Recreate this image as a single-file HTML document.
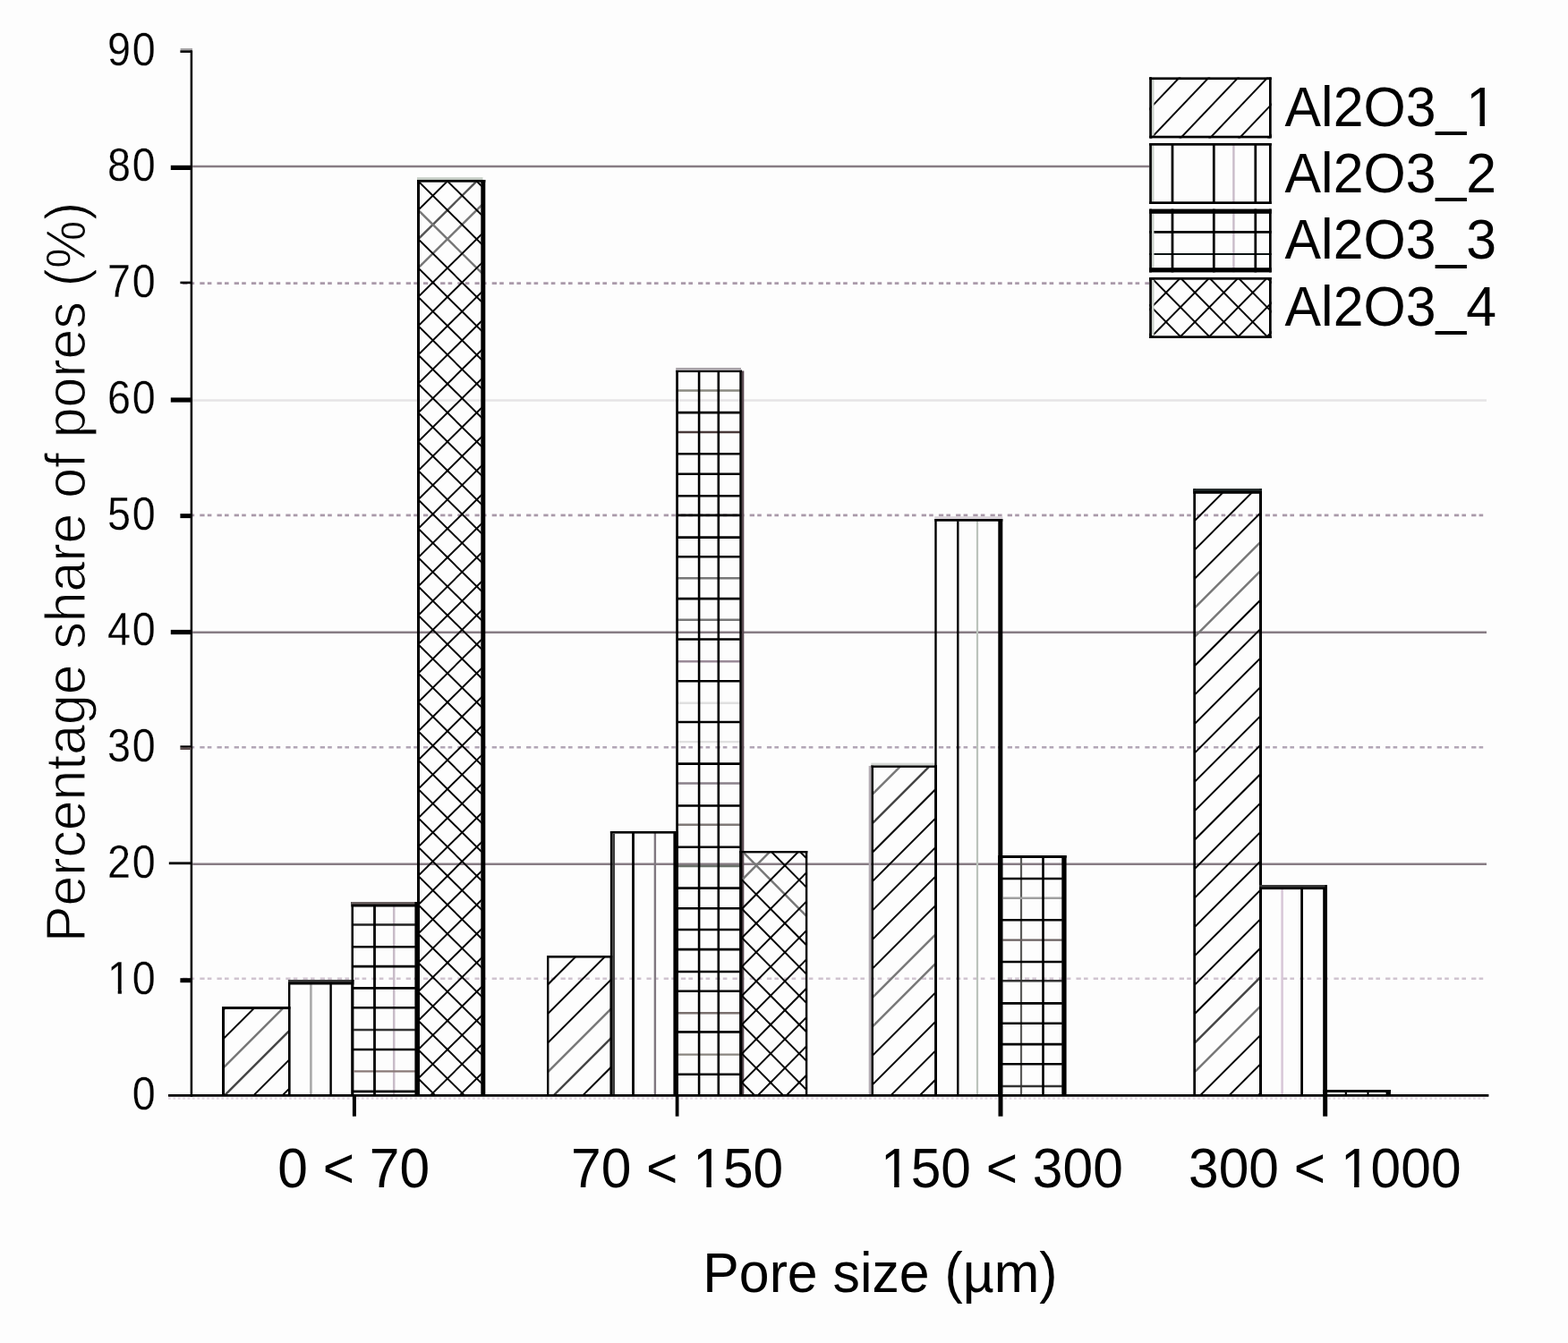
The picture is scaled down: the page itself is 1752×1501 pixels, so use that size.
<!DOCTYPE html>
<html lang="en">
<head>
<meta charset="utf-8">
<title>Percentage share of pores</title>
<style>
html,body{margin:0;padding:0;background:#fdfdfd;}
body{width:1752px;height:1501px;overflow:hidden;}
svg{display:block;filter:blur(0.45px);}
text{font-family:"Liberation Sans",Arial,Helvetica,sans-serif;fill:#000;}
</style>
</head>
<body>
<svg width="1752" height="1501" viewBox="0 0 1752 1501">
<rect x="-5" y="-5" width="1762" height="1511" fill="#fdfdfd"/>
<line x1="215.2" y1="185.9" x2="1661.0" y2="185.9" stroke="#877c84" stroke-width="2.50"/>
<line x1="204.1" y1="316.6" x2="1661.0" y2="316.6" stroke="#aa9aaa" stroke-width="2.60" stroke-dasharray="5.3 3.2 4.6 6.1"/>
<line x1="215.2" y1="447.6" x2="1661.0" y2="447.6" stroke="#e6e4e6" stroke-width="2.50"/>
<line x1="204.1" y1="575.9" x2="1661.0" y2="575.9" stroke="#aa9aaa" stroke-width="2.60" stroke-dasharray="5.3 3.2 4.6 6.1"/>
<line x1="215.2" y1="706.7" x2="1661.0" y2="706.7" stroke="#877c84" stroke-width="2.50"/>
<line x1="204.1" y1="835.2" x2="1661.0" y2="835.2" stroke="#b2a6b6" stroke-width="2.60" stroke-dasharray="5.3 3.2 4.6 6.1"/>
<line x1="215.2" y1="965.7" x2="1661.0" y2="965.7" stroke="#877c84" stroke-width="2.50"/>
<line x1="204.1" y1="1093.8" x2="1661.0" y2="1093.8" stroke="#d0c4d0" stroke-width="2.60" stroke-dasharray="5.3 3.2 4.6 6.1"/>
<line x1="188.0" y1="1227.6" x2="1660.0" y2="1227.6" stroke="#e4d8e4" stroke-width="2.20" stroke-dasharray="2.7 2.7"/>
<clipPath id="c1"><rect x="250.5" y="1127.5" width="72.0" height="96.8"/></clipPath>
<g clip-path="url(#c1)">
<line x1="245.5" y1="1197.5" x2="327.5" y2="1115.5" stroke="#777" stroke-width="2.45"/>
<line x1="245.5" y1="1229.8" x2="327.5" y2="1147.8" stroke="#444" stroke-width="2.45"/>
<line x1="245.5" y1="1100.6" x2="327.5" y2="1018.6" stroke="#000" stroke-width="1.95"/>
<line x1="245.5" y1="1132.9" x2="327.5" y2="1050.9" stroke="#000" stroke-width="1.95"/>
<line x1="245.5" y1="1165.2" x2="327.5" y2="1083.2" stroke="#000" stroke-width="1.95"/>
<line x1="245.5" y1="1262.1" x2="327.5" y2="1180.1" stroke="#000" stroke-width="1.95"/>
<line x1="245.5" y1="1294.4" x2="327.5" y2="1212.4" stroke="#000" stroke-width="1.95"/>
<line x1="245.5" y1="1326.7" x2="327.5" y2="1244.7" stroke="#000" stroke-width="1.95"/>
</g>
<rect x="248.0" y="1125.0" width="3.0" height="99.3" fill="#000"/>
<rect x="322.0" y="1125.0" width="2.4" height="99.3" fill="#000"/>
<rect x="248.0" y="1125.0" width="76.4" height="3.0" fill="#000"/>
<line x1="347.4" y1="1100.0" x2="347.4" y2="1224.3" stroke="#a8a8a8" stroke-width="2.60"/>
<line x1="369.6" y1="1100.0" x2="369.6" y2="1224.3" stroke="#000" stroke-width="2.40"/>
<rect x="322.0" y="1095.0" width="2.4" height="129.3" fill="#000"/>
<rect x="392.4" y="1095.0" width="3.0" height="129.3" fill="#000"/>
<rect x="322.0" y="1095.0" width="73.4" height="5.5" fill="#000"/>
<rect x="322.0" y="1095.0" width="73.4" height="2.6" fill="#3a3a3a"/>
<line x1="440.2" y1="1013.0" x2="440.2" y2="1224.3" stroke="#c8bcc8" stroke-width="2.50"/>
<line x1="394.5" y1="1033.5" x2="463.9" y2="1033.5" stroke="#222" stroke-width="2.40"/>
<line x1="394.5" y1="1151.0" x2="463.9" y2="1151.0" stroke="#333" stroke-width="2.40"/>
<line x1="394.5" y1="1197.4" x2="463.9" y2="1197.4" stroke="#8a7a78" stroke-width="2.40"/>
<line x1="418.5" y1="1013.0" x2="418.5" y2="1224.3" stroke="#000" stroke-width="2.80"/>
<line x1="394.5" y1="1058.2" x2="463.9" y2="1058.2" stroke="#000" stroke-width="2.60"/>
<line x1="394.5" y1="1080.1" x2="463.9" y2="1080.1" stroke="#000" stroke-width="2.60"/>
<line x1="394.5" y1="1104.4" x2="463.9" y2="1104.4" stroke="#000" stroke-width="2.60"/>
<line x1="394.5" y1="1126.2" x2="463.9" y2="1126.2" stroke="#000" stroke-width="2.60"/>
<line x1="394.5" y1="1173.0" x2="463.9" y2="1173.0" stroke="#000" stroke-width="2.60"/>
<line x1="394.5" y1="1219.9" x2="463.9" y2="1219.9" stroke="#000" stroke-width="2.60"/>
<rect x="392.5" y="1008.0" width="2.5" height="216.3" fill="#000"/>
<rect x="463.4" y="1008.0" width="2.8" height="216.3" fill="#000"/>
<rect x="392.5" y="1008.0" width="73.7" height="5.5" fill="#000"/>
<rect x="392.5" y="1008.0" width="70.9" height="2.6" fill="#6a6060"/>
<clipPath id="c2"><rect x="468.5" y="203.2" width="69.3" height="1021.1"/></clipPath>
<g clip-path="url(#c2)">
<line x1="463.5" y1="271.0" x2="542.8" y2="192.4" stroke="#555" stroke-width="2.45"/>
<line x1="463.5" y1="303.3" x2="542.8" y2="224.7" stroke="#777" stroke-width="2.45"/>
<line x1="463.5" y1="231.0" x2="542.8" y2="309.6" stroke="#777" stroke-width="2.45"/>
<line x1="463.5" y1="206.3" x2="542.8" y2="127.7" stroke="#000" stroke-width="1.95"/>
<line x1="463.5" y1="238.6" x2="542.8" y2="160.0" stroke="#000" stroke-width="1.95"/>
<line x1="463.5" y1="335.7" x2="542.8" y2="257.1" stroke="#000" stroke-width="1.95"/>
<line x1="463.5" y1="368.0" x2="542.8" y2="289.5" stroke="#000" stroke-width="1.95"/>
<line x1="463.5" y1="400.4" x2="542.8" y2="321.8" stroke="#000" stroke-width="1.95"/>
<line x1="463.5" y1="432.7" x2="542.8" y2="354.2" stroke="#000" stroke-width="1.95"/>
<line x1="463.5" y1="465.1" x2="542.8" y2="386.5" stroke="#000" stroke-width="1.95"/>
<line x1="463.5" y1="497.4" x2="542.8" y2="418.9" stroke="#000" stroke-width="1.95"/>
<line x1="463.5" y1="529.8" x2="542.8" y2="451.2" stroke="#000" stroke-width="1.95"/>
<line x1="463.5" y1="562.1" x2="542.8" y2="483.6" stroke="#000" stroke-width="1.95"/>
<line x1="463.5" y1="594.5" x2="542.8" y2="515.9" stroke="#000" stroke-width="1.95"/>
<line x1="463.5" y1="626.9" x2="542.8" y2="548.3" stroke="#000" stroke-width="1.95"/>
<line x1="463.5" y1="659.2" x2="542.8" y2="580.6" stroke="#000" stroke-width="1.95"/>
<line x1="463.5" y1="691.6" x2="542.8" y2="613.0" stroke="#000" stroke-width="1.95"/>
<line x1="463.5" y1="723.9" x2="542.8" y2="645.3" stroke="#000" stroke-width="1.95"/>
<line x1="463.5" y1="756.3" x2="542.8" y2="677.7" stroke="#000" stroke-width="1.95"/>
<line x1="463.5" y1="788.6" x2="542.8" y2="710.0" stroke="#000" stroke-width="1.95"/>
<line x1="463.5" y1="821.0" x2="542.8" y2="742.4" stroke="#000" stroke-width="1.95"/>
<line x1="463.5" y1="853.3" x2="542.8" y2="774.7" stroke="#000" stroke-width="1.95"/>
<line x1="463.5" y1="885.7" x2="542.8" y2="807.1" stroke="#000" stroke-width="1.95"/>
<line x1="463.5" y1="918.0" x2="542.8" y2="839.5" stroke="#000" stroke-width="1.95"/>
<line x1="463.5" y1="950.4" x2="542.8" y2="871.8" stroke="#000" stroke-width="1.95"/>
<line x1="463.5" y1="982.7" x2="542.8" y2="904.2" stroke="#000" stroke-width="1.95"/>
<line x1="463.5" y1="1015.1" x2="542.8" y2="936.5" stroke="#000" stroke-width="1.95"/>
<line x1="463.5" y1="1047.4" x2="542.8" y2="968.9" stroke="#000" stroke-width="1.95"/>
<line x1="463.5" y1="1079.8" x2="542.8" y2="1001.2" stroke="#000" stroke-width="1.95"/>
<line x1="463.5" y1="1112.1" x2="542.8" y2="1033.6" stroke="#000" stroke-width="1.95"/>
<line x1="463.5" y1="1144.5" x2="542.8" y2="1065.9" stroke="#000" stroke-width="1.95"/>
<line x1="463.5" y1="1176.9" x2="542.8" y2="1098.3" stroke="#000" stroke-width="1.95"/>
<line x1="463.5" y1="1209.2" x2="542.8" y2="1130.6" stroke="#000" stroke-width="1.95"/>
<line x1="463.5" y1="1241.6" x2="542.8" y2="1163.0" stroke="#000" stroke-width="1.95"/>
<line x1="463.5" y1="1273.9" x2="542.8" y2="1195.3" stroke="#000" stroke-width="1.95"/>
<line x1="463.5" y1="1306.3" x2="542.8" y2="1227.7" stroke="#000" stroke-width="1.95"/>
<line x1="463.5" y1="1234.0" x2="542.8" y2="1312.6" stroke="#000" stroke-width="1.95"/>
<line x1="463.5" y1="1201.6" x2="542.8" y2="1280.2" stroke="#000" stroke-width="1.95"/>
<line x1="463.5" y1="1169.3" x2="542.8" y2="1247.9" stroke="#000" stroke-width="1.95"/>
<line x1="463.5" y1="1136.9" x2="542.8" y2="1215.5" stroke="#000" stroke-width="1.95"/>
<line x1="463.5" y1="1104.6" x2="542.8" y2="1183.1" stroke="#000" stroke-width="1.95"/>
<line x1="463.5" y1="1072.2" x2="542.8" y2="1150.8" stroke="#000" stroke-width="1.95"/>
<line x1="463.5" y1="1039.9" x2="542.8" y2="1118.4" stroke="#000" stroke-width="1.95"/>
<line x1="463.5" y1="1007.5" x2="542.8" y2="1086.1" stroke="#000" stroke-width="1.95"/>
<line x1="463.5" y1="975.2" x2="542.8" y2="1053.7" stroke="#000" stroke-width="1.95"/>
<line x1="463.5" y1="942.8" x2="542.8" y2="1021.4" stroke="#000" stroke-width="1.95"/>
<line x1="463.5" y1="910.4" x2="542.8" y2="989.0" stroke="#000" stroke-width="1.95"/>
<line x1="463.5" y1="878.1" x2="542.8" y2="956.7" stroke="#000" stroke-width="1.95"/>
<line x1="463.5" y1="845.7" x2="542.8" y2="924.3" stroke="#000" stroke-width="1.95"/>
<line x1="463.5" y1="813.4" x2="542.8" y2="892.0" stroke="#000" stroke-width="1.95"/>
<line x1="463.5" y1="781.0" x2="542.8" y2="859.6" stroke="#000" stroke-width="1.95"/>
<line x1="463.5" y1="748.7" x2="542.8" y2="827.3" stroke="#000" stroke-width="1.95"/>
<line x1="463.5" y1="716.3" x2="542.8" y2="794.9" stroke="#000" stroke-width="1.95"/>
<line x1="463.5" y1="684.0" x2="542.8" y2="762.6" stroke="#000" stroke-width="1.95"/>
<line x1="463.5" y1="651.6" x2="542.8" y2="730.2" stroke="#000" stroke-width="1.95"/>
<line x1="463.5" y1="619.3" x2="542.8" y2="697.9" stroke="#000" stroke-width="1.95"/>
<line x1="463.5" y1="586.9" x2="542.8" y2="665.5" stroke="#000" stroke-width="1.95"/>
<line x1="463.5" y1="554.6" x2="542.8" y2="633.1" stroke="#000" stroke-width="1.95"/>
<line x1="463.5" y1="522.2" x2="542.8" y2="600.8" stroke="#000" stroke-width="1.95"/>
<line x1="463.5" y1="489.9" x2="542.8" y2="568.4" stroke="#000" stroke-width="1.95"/>
<line x1="463.5" y1="457.5" x2="542.8" y2="536.1" stroke="#000" stroke-width="1.95"/>
<line x1="463.5" y1="425.2" x2="542.8" y2="503.7" stroke="#000" stroke-width="1.95"/>
<line x1="463.5" y1="392.8" x2="542.8" y2="471.4" stroke="#000" stroke-width="1.95"/>
<line x1="463.5" y1="360.4" x2="542.8" y2="439.0" stroke="#000" stroke-width="1.95"/>
<line x1="463.5" y1="328.1" x2="542.8" y2="406.7" stroke="#000" stroke-width="1.95"/>
<line x1="463.5" y1="295.7" x2="542.8" y2="374.3" stroke="#000" stroke-width="1.95"/>
<line x1="463.5" y1="263.4" x2="542.8" y2="342.0" stroke="#000" stroke-width="1.95"/>
<line x1="463.5" y1="198.7" x2="542.8" y2="277.3" stroke="#000" stroke-width="1.95"/>
<line x1="463.5" y1="166.3" x2="542.8" y2="244.9" stroke="#000" stroke-width="1.95"/>
<line x1="463.5" y1="134.0" x2="542.8" y2="212.6" stroke="#000" stroke-width="1.95"/>
<line x1="463.5" y1="101.6" x2="542.8" y2="180.2" stroke="#000" stroke-width="1.95"/>
</g>
<rect x="466.0" y="201.0" width="3.0" height="1023.3" fill="#000"/>
<rect x="537.3" y="201.0" width="5.0" height="1023.3" fill="#000"/>
<rect x="466.0" y="201.0" width="76.3" height="2.7" fill="#000"/>
<rect x="466.0" y="198.2" width="73.5" height="2.8" fill="#c4ccc4"/>
<clipPath id="c3"><rect x="612.9" y="1070.1" width="69.1" height="154.2"/></clipPath>
<g clip-path="url(#c3)">
<line x1="607.9" y1="1202.4" x2="687.0" y2="1123.3" stroke="#777" stroke-width="2.45"/>
<line x1="607.9" y1="1235.0" x2="687.0" y2="1155.9" stroke="#444" stroke-width="2.45"/>
<line x1="607.9" y1="1072.0" x2="687.0" y2="992.9" stroke="#000" stroke-width="1.95"/>
<line x1="607.9" y1="1104.6" x2="687.0" y2="1025.5" stroke="#000" stroke-width="1.95"/>
<line x1="607.9" y1="1137.2" x2="687.0" y2="1058.1" stroke="#000" stroke-width="1.95"/>
<line x1="607.9" y1="1169.8" x2="687.0" y2="1090.7" stroke="#000" stroke-width="1.95"/>
<line x1="607.9" y1="1267.6" x2="687.0" y2="1188.5" stroke="#000" stroke-width="1.95"/>
<line x1="607.9" y1="1300.2" x2="687.0" y2="1221.1" stroke="#000" stroke-width="1.95"/>
</g>
<rect x="611.0" y="1068.0" width="2.4" height="156.3" fill="#000"/>
<rect x="681.5" y="1068.0" width="2.8" height="156.3" fill="#000"/>
<rect x="611.0" y="1068.0" width="73.3" height="2.6" fill="#000"/>
<line x1="731.9" y1="931.1" x2="731.9" y2="1224.3" stroke="#807880" stroke-width="2.40"/>
<line x1="707.5" y1="931.1" x2="707.5" y2="1224.3" stroke="#000" stroke-width="2.80"/>
<rect x="681.9" y="929.0" width="2.6" height="295.3" fill="#000"/>
<rect x="752.4" y="929.0" width="5.5" height="295.3" fill="#000"/>
<rect x="681.9" y="929.0" width="76.0" height="2.6" fill="#000"/>
<rect x="684.4" y="931.6" width="2.6" height="292.7" fill="#3a3a3a"/>
<line x1="757.4" y1="436.5" x2="826.8" y2="436.5" stroke="#8a8a80" stroke-width="2.40"/>
<line x1="757.4" y1="483.0" x2="826.8" y2="483.0" stroke="#4a3a3a" stroke-width="2.40"/>
<line x1="757.4" y1="646.3" x2="826.8" y2="646.3" stroke="#777" stroke-width="2.40"/>
<line x1="757.4" y1="692.7" x2="826.8" y2="692.7" stroke="#777" stroke-width="2.40"/>
<line x1="757.4" y1="739.3" x2="826.8" y2="739.3" stroke="#9a8a98" stroke-width="2.40"/>
<line x1="757.4" y1="785.7" x2="826.8" y2="785.7" stroke="#e0e0e0" stroke-width="2.40"/>
<line x1="757.4" y1="829.1" x2="826.8" y2="829.1" stroke="#e0e0e0" stroke-width="2.40"/>
<line x1="757.4" y1="875.5" x2="826.8" y2="875.5" stroke="#8a808a" stroke-width="2.40"/>
<line x1="757.4" y1="921.7" x2="826.8" y2="921.7" stroke="#807a78" stroke-width="2.40"/>
<line x1="757.4" y1="968.0" x2="826.8" y2="968.0" stroke="#6a706a" stroke-width="2.40"/>
<line x1="757.4" y1="1132.2" x2="826.8" y2="1132.2" stroke="#7a706e" stroke-width="2.40"/>
<line x1="757.4" y1="1178.6" x2="826.8" y2="1178.6" stroke="#8a8680" stroke-width="2.40"/>
<line x1="781.1" y1="415.6" x2="781.1" y2="1224.3" stroke="#000" stroke-width="2.60"/>
<line x1="802.8" y1="415.6" x2="802.8" y2="1224.3" stroke="#000" stroke-width="2.60"/>
<line x1="757.4" y1="461.1" x2="826.8" y2="461.1" stroke="#000" stroke-width="2.60"/>
<line x1="757.4" y1="507.3" x2="826.8" y2="507.3" stroke="#000" stroke-width="2.60"/>
<line x1="757.4" y1="529.7" x2="826.8" y2="529.7" stroke="#000" stroke-width="2.60"/>
<line x1="757.4" y1="554.2" x2="826.8" y2="554.2" stroke="#000" stroke-width="2.60"/>
<line x1="757.4" y1="575.9" x2="826.8" y2="575.9" stroke="#000" stroke-width="2.60"/>
<line x1="757.4" y1="600.6" x2="826.8" y2="600.6" stroke="#000" stroke-width="2.60"/>
<line x1="757.4" y1="622.3" x2="826.8" y2="622.3" stroke="#000" stroke-width="2.60"/>
<line x1="757.4" y1="669.1" x2="826.8" y2="669.1" stroke="#000" stroke-width="2.60"/>
<line x1="757.4" y1="714.5" x2="826.8" y2="714.5" stroke="#000" stroke-width="2.60"/>
<line x1="757.4" y1="761.3" x2="826.8" y2="761.3" stroke="#000" stroke-width="2.60"/>
<line x1="757.4" y1="807.0" x2="826.8" y2="807.0" stroke="#000" stroke-width="2.60"/>
<line x1="757.4" y1="853.6" x2="826.8" y2="853.6" stroke="#000" stroke-width="2.60"/>
<line x1="757.4" y1="900.5" x2="826.8" y2="900.5" stroke="#000" stroke-width="2.60"/>
<line x1="757.4" y1="946.7" x2="826.8" y2="946.7" stroke="#000" stroke-width="2.60"/>
<line x1="757.4" y1="992.6" x2="826.8" y2="992.6" stroke="#000" stroke-width="2.60"/>
<line x1="757.4" y1="1015.2" x2="826.8" y2="1015.2" stroke="#000" stroke-width="2.60"/>
<line x1="757.4" y1="1039.0" x2="826.8" y2="1039.0" stroke="#000" stroke-width="2.60"/>
<line x1="757.4" y1="1061.1" x2="826.8" y2="1061.1" stroke="#000" stroke-width="2.60"/>
<line x1="757.4" y1="1086.0" x2="826.8" y2="1086.0" stroke="#000" stroke-width="2.60"/>
<line x1="757.4" y1="1107.7" x2="826.8" y2="1107.7" stroke="#000" stroke-width="2.60"/>
<line x1="757.4" y1="1153.4" x2="826.8" y2="1153.4" stroke="#000" stroke-width="2.60"/>
<line x1="757.4" y1="1200.7" x2="826.8" y2="1200.7" stroke="#000" stroke-width="2.60"/>
<rect x="755.2" y="413.7" width="2.7" height="810.6" fill="#000"/>
<rect x="826.3" y="413.7" width="2.6" height="810.6" fill="#000"/>
<rect x="755.2" y="413.7" width="73.7" height="2.4" fill="#000"/>
<rect x="755.2" y="411.0" width="72.8" height="2.7" fill="#aaa4aa"/>
<rect x="828.9" y="414.5" width="2.4" height="809.8" fill="#5a4a52"/>
<clipPath id="c4"><rect x="828.8" y="952.9" width="71.6" height="271.4"/></clipPath>
<g clip-path="url(#c4)">
<line x1="823.8" y1="988.7" x2="905.4" y2="906.2" stroke="#777" stroke-width="2.45"/>
<line x1="823.8" y1="945.8" x2="905.4" y2="1028.3" stroke="#777" stroke-width="2.45"/>
<line x1="823.8" y1="956.3" x2="905.4" y2="873.8" stroke="#000" stroke-width="1.95"/>
<line x1="823.8" y1="1021.0" x2="905.4" y2="938.5" stroke="#000" stroke-width="1.95"/>
<line x1="823.8" y1="1053.4" x2="905.4" y2="970.9" stroke="#000" stroke-width="1.95"/>
<line x1="823.8" y1="1085.7" x2="905.4" y2="1003.2" stroke="#000" stroke-width="1.95"/>
<line x1="823.8" y1="1118.1" x2="905.4" y2="1035.6" stroke="#000" stroke-width="1.95"/>
<line x1="823.8" y1="1150.4" x2="905.4" y2="1067.9" stroke="#000" stroke-width="1.95"/>
<line x1="823.8" y1="1182.8" x2="905.4" y2="1100.3" stroke="#000" stroke-width="1.95"/>
<line x1="823.8" y1="1215.1" x2="905.4" y2="1132.6" stroke="#000" stroke-width="1.95"/>
<line x1="823.8" y1="1247.5" x2="905.4" y2="1165.0" stroke="#000" stroke-width="1.95"/>
<line x1="823.8" y1="1279.8" x2="905.4" y2="1197.3" stroke="#000" stroke-width="1.95"/>
<line x1="823.8" y1="1312.2" x2="905.4" y2="1229.7" stroke="#000" stroke-width="1.95"/>
<line x1="823.8" y1="1237.0" x2="905.4" y2="1319.5" stroke="#000" stroke-width="1.95"/>
<line x1="823.8" y1="1204.6" x2="905.4" y2="1287.1" stroke="#000" stroke-width="1.95"/>
<line x1="823.8" y1="1172.3" x2="905.4" y2="1254.8" stroke="#000" stroke-width="1.95"/>
<line x1="823.8" y1="1139.9" x2="905.4" y2="1222.4" stroke="#000" stroke-width="1.95"/>
<line x1="823.8" y1="1107.6" x2="905.4" y2="1190.1" stroke="#000" stroke-width="1.95"/>
<line x1="823.8" y1="1075.2" x2="905.4" y2="1157.7" stroke="#000" stroke-width="1.95"/>
<line x1="823.8" y1="1042.9" x2="905.4" y2="1125.4" stroke="#000" stroke-width="1.95"/>
<line x1="823.8" y1="1010.5" x2="905.4" y2="1093.0" stroke="#000" stroke-width="1.95"/>
<line x1="823.8" y1="978.2" x2="905.4" y2="1060.7" stroke="#000" stroke-width="1.95"/>
<line x1="823.8" y1="913.5" x2="905.4" y2="996.0" stroke="#000" stroke-width="1.95"/>
<line x1="823.8" y1="881.1" x2="905.4" y2="963.6" stroke="#000" stroke-width="1.95"/>
<line x1="823.8" y1="848.8" x2="905.4" y2="931.3" stroke="#000" stroke-width="1.95"/>
</g>
<rect x="826.3" y="951.0" width="3.0" height="273.3" fill="#000"/>
<rect x="899.9" y="951.0" width="2.4" height="273.3" fill="#000"/>
<rect x="826.3" y="951.0" width="76.0" height="2.4" fill="#000"/>
<clipPath id="c5"><rect x="975.5" y="857.4" width="69.3" height="366.9"/></clipPath>
<g clip-path="url(#c5)">
<line x1="970.5" y1="892.1" x2="1049.8" y2="812.8" stroke="#777" stroke-width="2.45"/>
<line x1="970.5" y1="924.5" x2="1049.8" y2="845.2" stroke="#444" stroke-width="2.45"/>
<line x1="970.5" y1="1119.2" x2="1049.8" y2="1040.0" stroke="#777" stroke-width="2.45"/>
<line x1="970.5" y1="1151.7" x2="1049.8" y2="1072.4" stroke="#777" stroke-width="2.45"/>
<line x1="970.5" y1="859.6" x2="1049.8" y2="780.3" stroke="#000" stroke-width="1.95"/>
<line x1="970.5" y1="957.0" x2="1049.8" y2="877.7" stroke="#000" stroke-width="1.95"/>
<line x1="970.5" y1="989.4" x2="1049.8" y2="910.1" stroke="#000" stroke-width="1.95"/>
<line x1="970.5" y1="1021.9" x2="1049.8" y2="942.6" stroke="#000" stroke-width="1.95"/>
<line x1="970.5" y1="1054.3" x2="1049.8" y2="975.0" stroke="#000" stroke-width="1.95"/>
<line x1="970.5" y1="1086.8" x2="1049.8" y2="1007.5" stroke="#000" stroke-width="1.95"/>
<line x1="970.5" y1="1184.2" x2="1049.8" y2="1104.9" stroke="#000" stroke-width="1.95"/>
<line x1="970.5" y1="1216.6" x2="1049.8" y2="1137.3" stroke="#000" stroke-width="1.95"/>
<line x1="970.5" y1="1249.1" x2="1049.8" y2="1169.8" stroke="#000" stroke-width="1.95"/>
<line x1="970.5" y1="1281.5" x2="1049.8" y2="1202.2" stroke="#000" stroke-width="1.95"/>
<line x1="970.5" y1="1313.9" x2="1049.8" y2="1234.6" stroke="#000" stroke-width="1.95"/>
</g>
<rect x="973.3" y="855.3" width="2.7" height="369.0" fill="#000"/>
<rect x="1044.3" y="855.3" width="2.7" height="369.0" fill="#000"/>
<rect x="973.3" y="855.3" width="73.7" height="2.6" fill="#000"/>
<rect x="970.7" y="856.0" width="2.6" height="368.3" fill="#b4acb4"/>
<rect x="973.3" y="852.7" width="71.0" height="2.6" fill="#d4d8d4"/>
<line x1="1092.0" y1="582.2" x2="1092.0" y2="1224.3" stroke="#bcc4bc" stroke-width="2.20"/>
<line x1="1070.3" y1="582.2" x2="1070.3" y2="1224.3" stroke="#000" stroke-width="2.40"/>
<rect x="1044.3" y="580.0" width="2.4" height="644.3" fill="#000"/>
<rect x="1115.3" y="580.0" width="5.0" height="644.3" fill="#000"/>
<rect x="1044.3" y="580.0" width="76.0" height="2.7" fill="#000"/>
<rect x="1044.3" y="577.2" width="76.0" height="2.8" fill="#d8d2d8"/>
<line x1="1141.0" y1="958.5" x2="1141.0" y2="1224.3" stroke="#5a5a58" stroke-width="2.20"/>
<line x1="1119.8" y1="1003.8" x2="1186.8" y2="1003.8" stroke="#a0a0a0" stroke-width="2.40"/>
<line x1="1119.8" y1="1050.6" x2="1186.8" y2="1050.6" stroke="#6a6060" stroke-width="2.40"/>
<line x1="1119.8" y1="1096.3" x2="1186.8" y2="1096.3" stroke="#333" stroke-width="2.40"/>
<line x1="1119.8" y1="1214.0" x2="1186.8" y2="1214.0" stroke="#333" stroke-width="2.40"/>
<line x1="1165.5" y1="958.5" x2="1165.5" y2="1224.3" stroke="#000" stroke-width="2.60"/>
<line x1="1119.8" y1="982.0" x2="1186.8" y2="982.0" stroke="#000" stroke-width="2.60"/>
<line x1="1119.8" y1="1028.3" x2="1186.8" y2="1028.3" stroke="#000" stroke-width="2.60"/>
<line x1="1119.8" y1="1075.0" x2="1186.8" y2="1075.0" stroke="#000" stroke-width="2.60"/>
<line x1="1119.8" y1="1121.4" x2="1186.8" y2="1121.4" stroke="#000" stroke-width="2.60"/>
<line x1="1119.8" y1="1143.8" x2="1186.8" y2="1143.8" stroke="#000" stroke-width="2.60"/>
<line x1="1119.8" y1="1167.1" x2="1186.8" y2="1167.1" stroke="#000" stroke-width="2.60"/>
<line x1="1119.8" y1="1189.3" x2="1186.8" y2="1189.3" stroke="#000" stroke-width="2.60"/>
<rect x="1115.2" y="956.0" width="5.1" height="268.3" fill="#000"/>
<rect x="1186.3" y="956.0" width="5.3" height="268.3" fill="#000"/>
<rect x="1115.2" y="956.0" width="76.4" height="3.0" fill="#000"/>
<clipPath id="c6"><rect x="1335.5" y="551.3" width="72.0" height="673.0"/></clipPath>
<g clip-path="url(#c6)">
<line x1="1330.5" y1="683.7" x2="1412.5" y2="601.7" stroke="#777" stroke-width="2.45"/>
<line x1="1330.5" y1="716.1" x2="1412.5" y2="634.1" stroke="#777" stroke-width="2.45"/>
<line x1="1330.5" y1="1170.0" x2="1412.5" y2="1088.0" stroke="#444" stroke-width="2.45"/>
<line x1="1330.5" y1="1202.4" x2="1412.5" y2="1120.4" stroke="#777" stroke-width="2.45"/>
<line x1="1330.5" y1="554.0" x2="1412.5" y2="472.0" stroke="#000" stroke-width="1.95"/>
<line x1="1330.5" y1="586.4" x2="1412.5" y2="504.4" stroke="#000" stroke-width="1.95"/>
<line x1="1330.5" y1="618.8" x2="1412.5" y2="536.8" stroke="#000" stroke-width="1.95"/>
<line x1="1330.5" y1="651.2" x2="1412.5" y2="569.2" stroke="#000" stroke-width="1.95"/>
<line x1="1330.5" y1="748.5" x2="1412.5" y2="666.5" stroke="#000" stroke-width="1.95"/>
<line x1="1330.5" y1="780.9" x2="1412.5" y2="698.9" stroke="#000" stroke-width="1.95"/>
<line x1="1330.5" y1="813.3" x2="1412.5" y2="731.3" stroke="#000" stroke-width="1.95"/>
<line x1="1330.5" y1="845.8" x2="1412.5" y2="763.8" stroke="#000" stroke-width="1.95"/>
<line x1="1330.5" y1="878.2" x2="1412.5" y2="796.2" stroke="#000" stroke-width="1.95"/>
<line x1="1330.5" y1="910.6" x2="1412.5" y2="828.6" stroke="#000" stroke-width="1.95"/>
<line x1="1330.5" y1="943.0" x2="1412.5" y2="861.0" stroke="#000" stroke-width="1.95"/>
<line x1="1330.5" y1="975.4" x2="1412.5" y2="893.4" stroke="#000" stroke-width="1.95"/>
<line x1="1330.5" y1="1007.9" x2="1412.5" y2="925.9" stroke="#000" stroke-width="1.95"/>
<line x1="1330.5" y1="1040.3" x2="1412.5" y2="958.3" stroke="#000" stroke-width="1.95"/>
<line x1="1330.5" y1="1072.7" x2="1412.5" y2="990.7" stroke="#000" stroke-width="1.95"/>
<line x1="1330.5" y1="1105.1" x2="1412.5" y2="1023.1" stroke="#000" stroke-width="1.95"/>
<line x1="1330.5" y1="1137.5" x2="1412.5" y2="1055.5" stroke="#000" stroke-width="1.95"/>
<line x1="1330.5" y1="1234.8" x2="1412.5" y2="1152.8" stroke="#000" stroke-width="1.95"/>
<line x1="1330.5" y1="1267.2" x2="1412.5" y2="1185.2" stroke="#000" stroke-width="1.95"/>
<line x1="1330.5" y1="1299.6" x2="1412.5" y2="1217.6" stroke="#000" stroke-width="1.95"/>
<line x1="1330.5" y1="1332.1" x2="1412.5" y2="1250.1" stroke="#000" stroke-width="1.95"/>
</g>
<rect x="1333.3" y="546.4" width="2.7" height="677.9" fill="#000"/>
<rect x="1407.0" y="546.4" width="3.0" height="677.9" fill="#000"/>
<rect x="1333.3" y="546.4" width="76.7" height="5.4" fill="#000"/>
<rect x="1333.3" y="546.4" width="76.7" height="2.6" fill="#1c2424"/>
<line x1="1432.6" y1="993.6" x2="1432.6" y2="1224.3" stroke="#d8c8d8" stroke-width="2.60"/>
<line x1="1454.6" y1="993.6" x2="1454.6" y2="1224.3" stroke="#000" stroke-width="2.80"/>
<rect x="1407.3" y="989.0" width="2.4" height="235.3" fill="#000"/>
<rect x="1478.2" y="989.0" width="4.8" height="235.3" fill="#000"/>
<rect x="1407.3" y="989.0" width="75.7" height="5.1" fill="#000"/>
<rect x="1407.3" y="989.0" width="73.2" height="2.5" fill="#3a3a3a"/>
<line x1="1503.8" y1="1220.4" x2="1503.8" y2="1224.3" stroke="#000" stroke-width="2.30"/>
<line x1="1528.5" y1="1220.4" x2="1528.5" y2="1224.3" stroke="#000" stroke-width="2.30"/>
<rect x="1478.2" y="1218.0" width="5.0" height="6.3" fill="#000"/>
<rect x="1548.5" y="1218.0" width="5.4" height="6.3" fill="#000"/>
<rect x="1478.2" y="1218.0" width="75.7" height="2.9" fill="#000"/>
<rect x="201.6" y="54.0" width="13.4" height="2.3" fill="#a4a2a4"/>
<line x1="213.9" y1="56.2" x2="213.9" y2="1225.7" stroke="#000" stroke-width="2.50"/>
<line x1="188.0" y1="1224.3" x2="1663.4" y2="1224.3" stroke="#000" stroke-width="2.80"/>
<line x1="201.4" y1="57.6" x2="213.9" y2="57.6" stroke="#000" stroke-width="2.60"/>
<line x1="190.8" y1="187.4" x2="213.9" y2="187.4" stroke="#000" stroke-width="5.20"/>
<line x1="201.4" y1="315.9" x2="213.9" y2="315.9" stroke="#000" stroke-width="2.60"/>
<line x1="190.8" y1="447.0" x2="213.9" y2="447.0" stroke="#000" stroke-width="5.20"/>
<line x1="201.4" y1="576.6" x2="213.9" y2="576.6" stroke="#000" stroke-width="5.00"/>
<line x1="190.8" y1="706.5" x2="213.9" y2="706.5" stroke="#000" stroke-width="5.20"/>
<line x1="201.4" y1="836.6" x2="213.9" y2="836.6" stroke="#5a4c4c" stroke-width="2.80"/>
<line x1="201.4" y1="834.3" x2="213.9" y2="834.3" stroke="#000" stroke-width="2.00"/>
<line x1="188.8" y1="964.8" x2="213.9" y2="964.8" stroke="#000" stroke-width="2.80"/>
<line x1="201.4" y1="1095.7" x2="213.9" y2="1095.7" stroke="#000" stroke-width="5.00"/>
<line x1="395.9" y1="1224.3" x2="395.9" y2="1247.7" stroke="#000" stroke-width="4.00"/>
<line x1="756.6" y1="1224.3" x2="756.6" y2="1247.7" stroke="#000" stroke-width="3.80"/>
<line x1="1118.0" y1="1224.3" x2="1118.0" y2="1247.7" stroke="#000" stroke-width="5.00"/>
<line x1="1480.7" y1="1224.3" x2="1480.7" y2="1247.7" stroke="#000" stroke-width="5.00"/>
<text transform="translate(175.6 1240.3) scale(0.89 1)" font-size="52.5" text-anchor="end" letter-spacing="2.05" stroke="#fdfdfd" stroke-width="0.25">0</text>
<g transform="translate(175.6 1110.5) scale(0.89 1)"><text font-size="52.5" text-anchor="end" letter-spacing="2.05" stroke="#fdfdfd" stroke-width="0.25">10</text><rect x="-60.39" y="-4.31" width="11.07" height="5.25" fill="#fdfdfd"/><rect x="-44.63" y="-4.31" width="10.49" height="5.25" fill="#fdfdfd"/></g>
<text transform="translate(175.6 980.8) scale(0.89 1)" font-size="52.5" text-anchor="end" letter-spacing="2.05" stroke="#fdfdfd" stroke-width="0.25">20</text>
<text transform="translate(175.6 851.0) scale(0.89 1)" font-size="52.5" text-anchor="end" letter-spacing="2.05" stroke="#fdfdfd" stroke-width="0.25">30</text>
<text transform="translate(175.6 721.3) scale(0.89 1)" font-size="52.5" text-anchor="end" letter-spacing="2.05" stroke="#fdfdfd" stroke-width="0.25">40</text>
<text transform="translate(175.6 591.5) scale(0.89 1)" font-size="52.5" text-anchor="end" letter-spacing="2.05" stroke="#fdfdfd" stroke-width="0.25">50</text>
<text transform="translate(175.6 461.7) scale(0.89 1)" font-size="52.5" text-anchor="end" letter-spacing="2.05" stroke="#fdfdfd" stroke-width="0.25">60</text>
<text transform="translate(175.6 332.0) scale(0.89 1)" font-size="52.5" text-anchor="end" letter-spacing="2.05" stroke="#fdfdfd" stroke-width="0.25">70</text>
<text transform="translate(175.6 202.2) scale(0.89 1)" font-size="52.5" text-anchor="end" letter-spacing="2.05" stroke="#fdfdfd" stroke-width="0.25">80</text>
<text transform="translate(175.6 72.5) scale(0.89 1)" font-size="52.5" text-anchor="end" letter-spacing="2.05" stroke="#fdfdfd" stroke-width="0.25">90</text>
<text transform="translate(395.2 1326.8) scale(0.968 1)" font-size="62.5" text-anchor="middle">0 &lt; 70</text>
<g transform="translate(756.6 1326.8) scale(0.968 1)"><text font-size="62.5" text-anchor="middle">70 &lt; 150</text><rect x="20.72" y="-5.12" width="13.18" height="6.25" fill="#fdfdfd"/><rect x="39.48" y="-5.12" width="12.49" height="6.25" fill="#fdfdfd"/></g>
<g transform="translate(1119.4 1326.8) scale(0.968 1)"><text font-size="62.5" text-anchor="middle">150 &lt; 300</text><rect x="-137.38" y="-5.12" width="13.18" height="6.25" fill="#fdfdfd"/><rect x="-118.61" y="-5.12" width="12.49" height="6.25" fill="#fdfdfd"/></g>
<g transform="translate(1480.3 1326.8) scale(0.968 1)"><text font-size="62.5" text-anchor="middle">300 &lt; 1000</text><rect x="20.72" y="-5.12" width="13.18" height="6.25" fill="#fdfdfd"/><rect x="39.48" y="-5.12" width="12.49" height="6.25" fill="#fdfdfd"/></g>
<text transform="translate(983.4 1443.6) scale(0.972 1)" font-size="62.5" text-anchor="middle">Pore size (µm)</text>
<text transform="translate(94.8 639.5) rotate(-90) scale(0.972 1)" font-size="62.5" text-anchor="middle" stroke="#fdfdfd" stroke-width="1.1">Percentage share of pores (%)</text>
<rect x="1284.2" y="84" width="415.79999999999995" height="296" fill="#fdfdfd"/>
<clipPath id="c7"><rect x="1284.2" y="86.4" width="136.5" height="68.0"/></clipPath>
<g clip-path="url(#c7)">
<line x1="1279.2" y1="92.7" x2="1425.7" y2="-61.1" stroke="#000" stroke-width="1.95"/>
<line x1="1279.2" y1="127.2" x2="1425.7" y2="-26.6" stroke="#000" stroke-width="1.95"/>
<line x1="1279.2" y1="161.7" x2="1425.7" y2="7.9" stroke="#000" stroke-width="1.95"/>
<line x1="1279.2" y1="196.2" x2="1425.7" y2="42.4" stroke="#000" stroke-width="1.95"/>
<line x1="1279.2" y1="230.7" x2="1425.7" y2="76.9" stroke="#000" stroke-width="1.95"/>
<line x1="1279.2" y1="265.2" x2="1425.7" y2="111.4" stroke="#000" stroke-width="1.95"/>
<line x1="1279.2" y1="299.7" x2="1425.7" y2="145.9" stroke="#000" stroke-width="1.95"/>
<line x1="1279.2" y1="334.2" x2="1425.7" y2="180.4" stroke="#000" stroke-width="1.95"/>
</g>
<rect x="1286.9" y="89.1" width="2.6" height="62.5" fill="#cdd4cd"/>
<rect x="1284.2" y="86.4" width="2.7" height="68.0" fill="#000"/>
<rect x="1418.0" y="86.4" width="2.7" height="68.0" fill="#000"/>
<rect x="1284.2" y="86.4" width="136.5" height="2.7" fill="#000"/>
<rect x="1284.2" y="151.7" width="136.5" height="2.7" fill="#000"/>
<line x1="1378.4" y1="160.0" x2="1378.4" y2="228.0" stroke="#c9bcc9" stroke-width="2.40"/>
<line x1="1310.0" y1="160.0" x2="1310.0" y2="228.0" stroke="#000" stroke-width="2.74"/>
<line x1="1356.3" y1="160.0" x2="1356.3" y2="228.0" stroke="#000" stroke-width="2.74"/>
<line x1="1402.8" y1="160.0" x2="1402.8" y2="228.0" stroke="#000" stroke-width="2.74"/>
<rect x="1286.9" y="162.7" width="2.6" height="62.5" fill="#cdd4cd"/>
<rect x="1284.2" y="160.0" width="2.7" height="68.0" fill="#000"/>
<rect x="1418.0" y="160.0" width="2.7" height="68.0" fill="#000"/>
<rect x="1284.2" y="160.0" width="136.5" height="2.7" fill="#000"/>
<rect x="1284.2" y="225.3" width="136.5" height="2.7" fill="#000"/>
<line x1="1378.4" y1="233.6" x2="1378.4" y2="304.4" stroke="#c9bcc9" stroke-width="2.40"/>
<line x1="1284.2" y1="259.3" x2="1420.7" y2="259.3" stroke="#000" stroke-width="2.80"/>
<line x1="1284.2" y1="284.0" x2="1420.7" y2="284.0" stroke="#0c1414" stroke-width="2.00"/>
<line x1="1310.0" y1="233.6" x2="1310.0" y2="304.4" stroke="#000" stroke-width="2.74"/>
<line x1="1356.3" y1="233.6" x2="1356.3" y2="304.4" stroke="#000" stroke-width="2.74"/>
<line x1="1402.8" y1="233.6" x2="1402.8" y2="304.4" stroke="#000" stroke-width="2.74"/>
<rect x="1286.9" y="238.8" width="2.6" height="60.4" fill="#cdd4cd"/>
<rect x="1284.2" y="233.6" width="2.7" height="70.8" fill="#000"/>
<rect x="1418.0" y="233.6" width="2.7" height="70.8" fill="#000"/>
<rect x="1284.2" y="233.6" width="136.5" height="5.2" fill="#000"/>
<rect x="1284.2" y="299.2" width="136.5" height="5.2" fill="#000"/>
<clipPath id="c8"><rect x="1284.2" y="310.0" width="136.5" height="68.0"/></clipPath>
<g clip-path="url(#c8)">
<line x1="1279.2" y1="285.4" x2="1425.7" y2="136.6" stroke="#000" stroke-width="1.95"/>
<line x1="1279.2" y1="318.2" x2="1425.7" y2="169.4" stroke="#000" stroke-width="1.95"/>
<line x1="1279.2" y1="351.0" x2="1425.7" y2="202.2" stroke="#000" stroke-width="1.95"/>
<line x1="1279.2" y1="383.8" x2="1425.7" y2="235.0" stroke="#000" stroke-width="1.95"/>
<line x1="1279.2" y1="416.6" x2="1425.7" y2="267.8" stroke="#000" stroke-width="1.95"/>
<line x1="1279.2" y1="449.4" x2="1425.7" y2="300.6" stroke="#000" stroke-width="1.95"/>
<line x1="1279.2" y1="482.2" x2="1425.7" y2="333.4" stroke="#000" stroke-width="1.95"/>
<line x1="1279.2" y1="515.0" x2="1425.7" y2="366.2" stroke="#000" stroke-width="1.95"/>
<line x1="1279.2" y1="547.8" x2="1425.7" y2="399.0" stroke="#000" stroke-width="1.95"/>
<line x1="1279.2" y1="401.4" x2="1425.7" y2="550.2" stroke="#000" stroke-width="1.95"/>
<line x1="1279.2" y1="368.6" x2="1425.7" y2="517.4" stroke="#000" stroke-width="1.95"/>
<line x1="1279.2" y1="335.8" x2="1425.7" y2="484.6" stroke="#000" stroke-width="1.95"/>
<line x1="1279.2" y1="303.0" x2="1425.7" y2="451.8" stroke="#000" stroke-width="1.95"/>
<line x1="1279.2" y1="270.2" x2="1425.7" y2="419.0" stroke="#000" stroke-width="1.95"/>
<line x1="1279.2" y1="237.4" x2="1425.7" y2="386.2" stroke="#000" stroke-width="1.95"/>
<line x1="1279.2" y1="204.6" x2="1425.7" y2="353.4" stroke="#000" stroke-width="1.95"/>
<line x1="1279.2" y1="171.8" x2="1425.7" y2="320.6" stroke="#000" stroke-width="1.95"/>
<line x1="1279.2" y1="139.0" x2="1425.7" y2="287.8" stroke="#000" stroke-width="1.95"/>
</g>
<rect x="1286.9" y="312.7" width="2.6" height="62.5" fill="#cdd4cd"/>
<rect x="1284.2" y="310.0" width="2.7" height="68.0" fill="#000"/>
<rect x="1418.0" y="310.0" width="2.7" height="68.0" fill="#000"/>
<rect x="1284.2" y="310.0" width="136.5" height="2.7" fill="#000"/>
<rect x="1284.2" y="375.3" width="136.5" height="2.7" fill="#000"/>
<g transform="translate(1435.6 140.7) scale(0.972 1)"><text font-size="62.5" text-anchor="start" dy="0 0 0 0 0 -2.8 2.8">Al2O3_1</text><rect x="210.99" y="-5.12" width="13.18" height="6.25" fill="#fdfdfd"/><rect x="229.75" y="-5.12" width="12.49" height="6.25" fill="#fdfdfd"/></g>
<text transform="translate(1435.6 214.5) scale(0.972 1)" font-size="62.5" text-anchor="start" dy="0 0 0 0 0 -2.8 2.8">Al2O3_2</text>
<text transform="translate(1435.6 289.4) scale(0.972 1)" font-size="62.5" text-anchor="start" dy="0 0 0 0 0 -2.8 2.8">Al2O3_3</text>
<text transform="translate(1435.6 364.1) scale(0.972 1)" font-size="62.5" text-anchor="start" dy="0 0 0 0 0 -2.8 2.8">Al2O3_4</text>
</svg>
</body>
</html>
